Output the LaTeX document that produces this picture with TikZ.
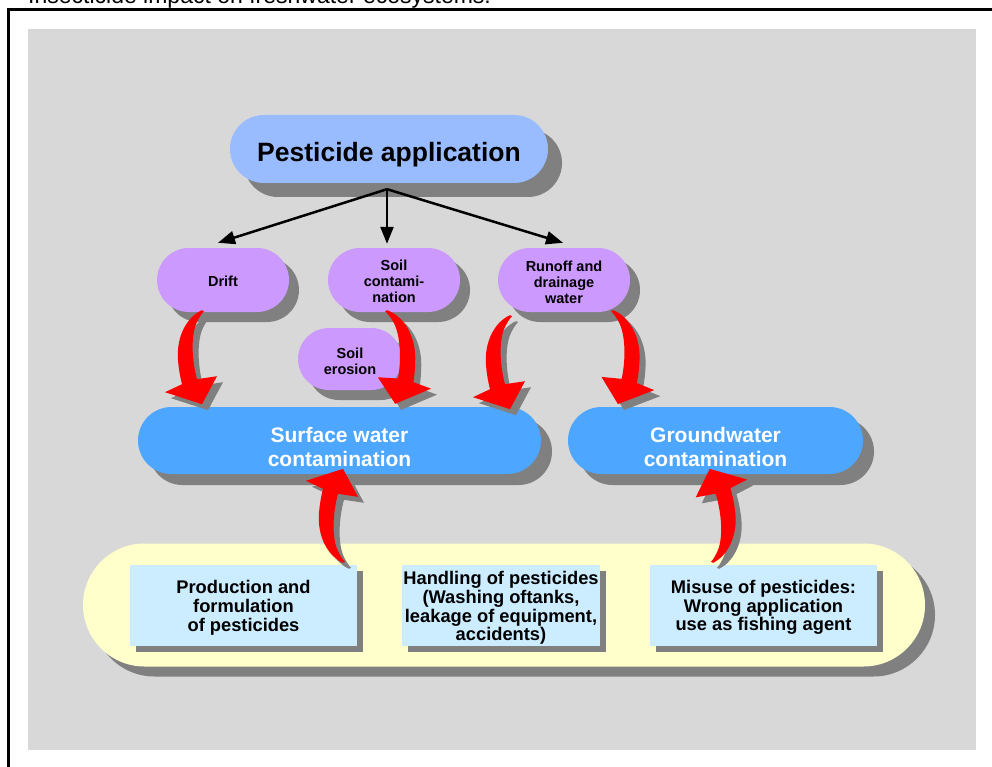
\documentclass[tikz,border=0pt]{standalone}
\usepackage{fontspec}
\setmainfont{Liberation Sans}
\usetikzlibrary{shapes.misc,shadows,arrows.meta,calc}

\definecolor{bggray}{HTML}{D8D8D8}
\definecolor{shgray}{HTML}{808080}
\definecolor{appblue}{HTML}{99BBFF}
\definecolor{lilac}{HTML}{CC99FF}
\definecolor{waterblue}{HTML}{4DA6FF}
\definecolor{paleyellow}{HTML}{FFFFCC}
\definecolor{paleblue}{HTML}{CCECFF}
\definecolor{arrred}{HTML}{FF0000}

\tikzset{
  pill/.style={rounded rectangle, inner sep=0pt},
  sh/.style={drop shadow={shadow xshift=#1, shadow yshift=-#1, fill=shgray, opacity=1}},
  lbl/.style={inner sep=0pt, align=center},
  appstyle/.style={pill, fill=appblue, sh=14pt, minimum width=318pt, minimum height=68pt},
  apptext/.style={lbl, font=\bfseries\fontsize{26.5}{30}\selectfont},
  srcstyle/.style={pill, fill=lilac, sh=10pt, minimum height=64pt},
  srctext/.style={lbl, font=\bfseries\fontsize{14.5}{16}\selectfont},
  waterstyle/.style={pill, fill=waterblue, sh=11pt, minimum height=67pt},
  watertext/.style={lbl, text=white, font=\bfseries\fontsize{21}{24}\selectfont},
  basestyle/.style={rounded rectangle, fill=paleyellow, sh=10pt, inner sep=0pt},
  causebox/.style={rectangle, fill=paleblue, sh=6pt, inner sep=0pt, minimum height=81pt},
  causetext/.style={lbl, font=\bfseries\fontsize{18.3}{18.8}\selectfont},
  blackarrow/.style={line width=2.5pt, -{Triangle[length=17pt,width=13pt]}},
  fatarrow/.pic={
    \fill[pic actions] (0,0) .. controls (-14,6) and (-26,25) .. (-24,50)
      .. controls (-23,62) and (-21,70) .. (-20,74) -- (-37,82) -- (0,94) -- (15,66)
      -- (-5,69) .. controls (-9,55) and (-12,30) .. (-6,14)
      .. controls (-3,7) and (0,3) .. (2,1) -- cycle;
  }
}
\newcommand{\fatarrow}[2]{% #1 tail coordinate, #2 transformations
  \pic[fill=shgray,#2] at ($(#1)+(6,6)$) {fatarrow};
  \pic[fill=arrred,#2] at (#1) {fatarrow};}

\begin{document}
\begin{tikzpicture}[x=1pt,y=-1pt]
\useasboundingbox (0,0) rectangle (992,767);
\clip (0,0) rectangle (992,767);
\fill[white] (0,0) rectangle (992,767);

% title, cut off at the top as in the original
\node[anchor=base west, inner sep=0pt, font=\fontsize{23}{26}\selectfont] (title) at (28,4)
  {Insecticide impact on freshwater ecosystems.};

% frame and background
\draw[line width=3pt] (8,767) -- (8,10) -- (992,10);
\fill[bggray] (28,29) rectangle (976,750);

% shapes
\node[appstyle] (app) at (389,149) {};
\node[srcstyle, minimum width=132pt] (drift) at (223,280) {};
\node[srcstyle, minimum width=132pt] (soilc) at (394,280) {};
\node[srcstyle, minimum width=132pt] (runoff) at (564,280) {};
\node[srcstyle, minimum width=104pt, minimum height=62pt] (erosion) at (350,359) {};
\node[waterstyle, minimum width=403pt] (surf) at (339.5,440.5) {};
\node[waterstyle, minimum width=295pt] (ground) at (715.5,440.5) {};
\node[basestyle, minimum width=842pt, minimum height=123pt] (base) at (504,605) {};
\node[causebox, minimum width=227pt] (prod) at (243.5,605.5) {};
\node[causebox, minimum width=198pt] (handl) at (501,605.5) {};
\node[causebox, minimum width=227pt] (misuse) at (763.5,605.5) {};

% texts
\node[apptext] (appt) at ($(app)+(0,6)$) {Pesticide application};
\node[srctext] (driftt) at ($(drift)+(0,1)$) {Drift};
\node[srctext] (soilct) at ($(soilc)+(0,1.5)$) {Soil\\contami-\\nation};
\node[srctext] (runofft) at ($(runoff)+(0,2)$) {Runoff and\\drainage\\water};
\node[srctext] (erosiont) at ($(erosion)+(0,2)$) {Soil\\erosion};
\node[watertext] (surft) at ($(surf)+(0,6)$) {Surface water\\contamination};
\node[watertext] (groundt) at ($(ground)+(0,6)$) {Groundwater\\contamination};
\node[causetext] (prodt) at ($(prod)+(0,2)$) {Production and\\formulation\\of pesticides};
\node[causetext] (handlt) at ($(handl)+(0,2.5)$) {Handling of pesticides\\(Washing oftanks,\\leakage of equipment,\\accidents)};
\node[causetext] (misuset) at ($(misuse)+(0,2)$) {Misuse of pesticides:\\Wrong application\\use as fishing agent};

% black arrows
\coordinate (fork) at ($(app.south)+(-2,6)$);
\coordinate (driftin) at ($(drift.north)+(-5,-5)$);
\coordinate (soilcin) at ($(soilc.north)+(-7,-4)$);
\coordinate (runoffin) at ($(runoff.north)+(-1,-5)$);
\draw[blackarrow] (fork) -- (driftin);
\draw[blackarrow] (fork) -- (soilcin);
\draw[blackarrow] (fork) -- (runoffin);

% red curved arrows
\coordinate (t1) at ($(drift.south)+(-21,-2)$);
\coordinate (t2) at ($(soilc.south)+(-7,-2)$);
\coordinate (t3) at ($(runoff.south)+(-54,3)$);
\coordinate (t4) at ($(runoff.south)+(49,-2)$);
\coordinate (t5) at ($(prod.north)+(99.5,-2)$);
\coordinate (t6) at ($(misuse.north)+(-50.5,-2)$);
\fatarrow{t1}{}
\fatarrow{t2}{xscale=-1, rotate=-5}
\fatarrow{t3}{}
\fatarrow{t4}{xscale=-1, rotate=-3}
\fatarrow{t5}{yscale=-1}
\fatarrow{t6}{xscale=-1, yscale=-1, rotate=2}
\end{tikzpicture}
\end{document}
